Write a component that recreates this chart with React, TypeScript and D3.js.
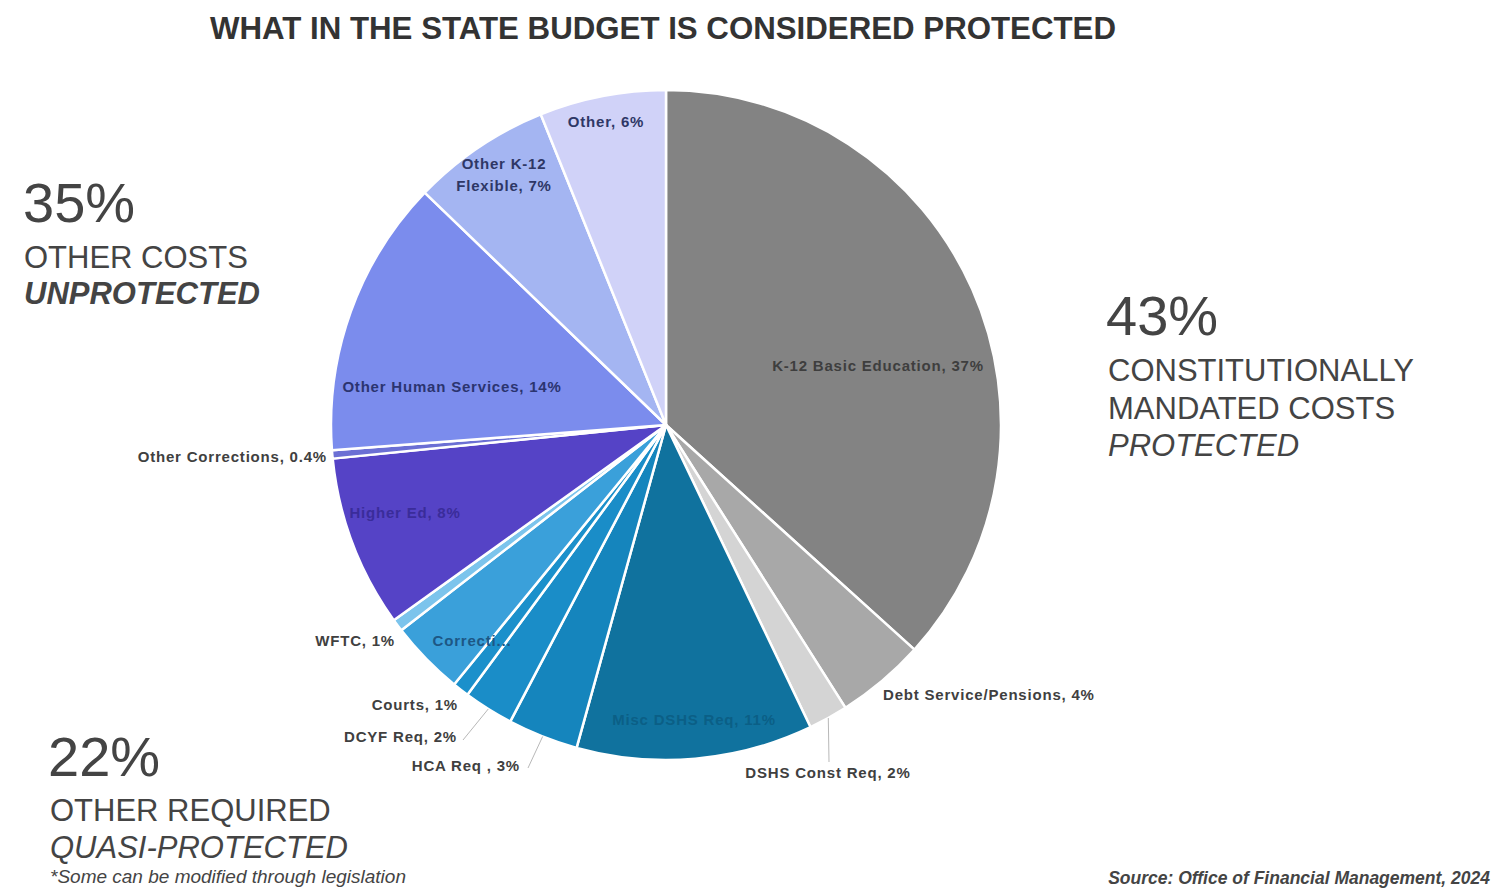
import React from 'react';
import * as d3 from 'd3';

// slice names, shares (percent of budget) and fills, clockwise from 12 o'clock
const sliceNames = [
  'K-12 Basic Education', 'Debt Service/Pensions', 'DSHS Const Req',
  'Misc DSHS Req', 'HCA Req', 'DCYF Req', 'Courts', 'Corrections', 'WFTC',
  'Higher Ed', 'Other Corrections', 'Other Human Services', 'Other K-12 Flexible', 'Other',
];
const sliceValues = [36.7, 4.3, 1.9, 11.4, 3.4, 2.4, 0.8, 3.6, 0.6, 8.3, 0.4, 13.4, 6.7, 6.1];
const sliceLabels = [
  'K-12 Basic Education, 37%', 'Debt Service/Pensions, 4%', 'DSHS Const Req, 2%',
  'Misc DSHS Req, 11%', 'HCA Req , 3%', 'DCYF Req, 2%', 'Courts, 1%', 'Correcti...', 'WFTC, 1%',
  'Higher Ed, 8%', 'Other Corrections, 0.4%', 'Other Human Services, 14%', 'Other K-12\nFlexible, 7%', 'Other, 6%',
];
const sliceColors = [
  '#838383', '#a8a8a8', '#d4d4d4',
  '#10729e', '#1585bd', '#1a8dc8', '#1b90cb', '#3aa0da', '#7cc4ec',
  '#5543c6', '#6b6fd4', '#7b8ced', '#a4b5f2', '#d0d2f8',
];

const groupPct = ['35%', '43%', '22%'];

const W = 1495;
const H = 889;
const cx = 666;
const cy = 425;
const R = 335;

// label placement, relative to the pie centre; lead = draw a leader from the rim
type LabelPos = { dx: number; dy: number; anchor: string; color: string; lead?: [number, number] };
const labelPos: LabelPos[] = [
  { dx: 212, dy: -59, anchor: 'middle', color: '#3e3e3e' },
  { dx: 217, dy: 270, anchor: 'start', color: '#404040' },
  { dx: 162, dy: 348, anchor: 'middle', color: '#404040', lead: [163, 337] },
  { dx: 28, dy: 295, anchor: 'middle', color: '#0b5f86' },
  { dx: -146, dy: 341, anchor: 'end', color: '#404040', lead: [-138, 343] },
  { dx: -209, dy: 312, anchor: 'end', color: '#404040', lead: [-203, 315] },
  { dx: -208, dy: 280, anchor: 'end', color: '#404040' },
  { dx: -194, dy: 216, anchor: 'middle', color: '#1d5785' },
  { dx: -271, dy: 216, anchor: 'end', color: '#404040' },
  { dx: -261, dy: 88, anchor: 'middle', color: '#3a2c9a' },
  { dx: -339, dy: 32, anchor: 'end', color: '#404040' },
  { dx: -214, dy: -38, anchor: 'middle', color: '#2b3470' },
  { dx: -162, dy: -250, anchor: 'middle', color: '#2e3766' },
  { dx: -60, dy: -303, anchor: 'middle', color: '#2e3766' },
];

const App: React.FC = () => {
  const data = sliceValues.map((v, i) => ({ name: sliceNames[i], value: v, i }));
  const arcs = d3.pie<{ name: string; value: number; i: number }>()
    .sort(null)
    .value(d => d.value)(data);
  const arc = d3.arc<d3.PieArcDatum<any>>().innerRadius(0).outerRadius(R);
  const rim = d3.arc<d3.PieArcDatum<any>>().innerRadius(R).outerRadius(R);

  const font = '"Liberation Sans", Arial, sans-serif';

  return (
    <svg width={W} height={H} style={{ position: 'absolute', left: 0, top: 0, background: '#fff' }}
      fontFamily={font}>
      <text x={663} y={39} textAnchor="middle" fontSize={32} fontWeight="bold" fill="#333"
        textLength={906} lengthAdjust="spacingAndGlyphs">
        WHAT IN THE STATE BUDGET IS CONSIDERED PROTECTED
      </text>

      <g transform={`translate(${cx},${cy})`}>
        {arcs.map((a, i) => (
          <path key={i} d={arc(a) || ''} fill={sliceColors[i]} stroke="#fff" strokeWidth={2.5}
            strokeLinejoin="round" />
        ))}
        {arcs.map((a, i) => {
          const p = labelPos[i];
          if (!p.lead) return null;
          const [sx, sy] = rim.centroid(a);
          return (
            <polyline key={'l' + i} points={`${sx},${sy} ${p.lead[0]},${p.lead[1]}`}
              fill="none" stroke="#b8b8b8" strokeWidth={1} />
          );
        })}
        {arcs.map((a, i) => {
          const p = labelPos[i];
          const lines = sliceLabels[i].split('\n');
          return (
            <text key={'t' + i} x={p.dx} y={p.dy} textAnchor={p.anchor} fontSize={15}
              letterSpacing={0.8} fontWeight="bold" fill={p.color}>
              {lines.map((ln, k) => (
                <tspan key={k} x={p.dx} dy={k === 0 ? (lines.length > 1 ? -6 : 5) : 22}>{ln}</tspan>
              ))}
            </text>
          );
        })}
      </g>

      {/* unprotected */}
      <g fill="#444">
        <text x={23} y={222} fontSize={56}>{groupPct[0]}</text>
        <text x={24} y={268} fontSize={31}>OTHER COSTS</text>
        <text x={24} y={304} fontSize={31} fontWeight="bold" fontStyle="italic">UNPROTECTED</text>
      </g>

      {/* protected */}
      <g fill="#444">
        <text x={1106} y={335} fontSize={56}>{groupPct[1]}</text>
        <text x={1108} y={381} fontSize={31}>CONSTITUTIONALLY</text>
        <text x={1108} y={419} fontSize={31}>MANDATED COSTS</text>
        <text x={1108} y={456} fontSize={31} fontStyle="italic">PROTECTED</text>
      </g>

      {/* quasi-protected */}
      <g fill="#444">
        <text x={48} y={776} fontSize={56}>{groupPct[2]}</text>
        <text x={50} y={821} fontSize={31}>OTHER REQUIRED</text>
        <text x={50} y={858} fontSize={31} fontStyle="italic">QUASI-PROTECTED</text>
        <text x={50} y={883} fontSize={19} fontStyle="italic">*Some can be modified through legislation</text>
      </g>

      <text x={1490} y={884} textAnchor="end" fontSize={17.5} fontStyle="italic" fontWeight="bold" fill="#444">
        Source: Office of Financial Management, 2024
      </text>
    </svg>
  );
};

export default App;
